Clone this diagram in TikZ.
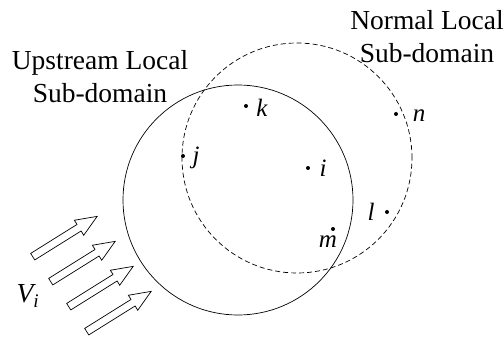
\documentclass[tikz,border=0pt]{standalone}
\usepackage{fontspec}
\setmainfont{Liberation Serif}
\usetikzlibrary{shapes.arrows}
\begin{document}
\begin{tikzpicture}[x=1pt,y=-1pt]
        \tikzset{domain circle/.style={circle, draw=black, line width=0.7pt, fill=none, minimum size=230pt, inner sep=0pt},
                 point node/.style={circle, fill=black, inner sep=0pt, minimum size=4pt},
                 point label/.style={font=\fontsize{25}{30}\selectfont\itshape, inner sep=0pt},
                 title node/.style={align=center, font=\fontsize{27.5}{33}\selectfont, inner sep=0pt},
                 flow arrow/.style={single arrow, draw=black, line width=0.7pt, fill=white, inner sep=3.5pt, minimum height=76pt, single arrow head extend=5pt, single arrow tip angle=45, rotate=32}}
        \useasboundingbox (0,0) rectangle (504,345);
        \node[domain circle] (upstream) at (238,200) {};
        \node[domain circle, dash pattern=on 5pt off 3pt] (normal) at (297,158) {};
        \node[title node] (upstream text) at (100,77) {Upstream Local\\Sub-domain};
        \node[title node] (normal text) at (427,37) {Normal Local\\Sub-domain};
        \node[point node] (k) at (246,106) {};
        \node[point node] (j) at (183,156) {};
        \node[point node] (i) at (308,168) {};
        \node[point node] (m) at (333,229) {};
        \node[point node] (l) at (387,212) {};
        \node[point node] (n) at (396,114) {};
        \node[point label] (k label) at (262,108) {k};
        \node[point label] (j label) at (196,158) {j};
        \node[point label] (i label) at (323,168) {i};
        \node[point label] (m label) at (328,242) {m};
        \node[point label] (l label) at (371,212) {l};
        \node[point label] (n label) at (419,116) {n};
        \node[flow arrow] (flow1) at (61,239) {};
        \node[flow arrow] (flow2) at (79,264) {};
        \node[flow arrow] (flow3) at (97,289) {};
        \node[flow arrow] (flow4) at (115,314) {};
        \node[font=\fontsize{27.5}{33}\selectfont\itshape, inner sep=0pt] (velocity) at (28,296) {V\textsubscript{i}};
      \end{tikzpicture}
\end{document}
